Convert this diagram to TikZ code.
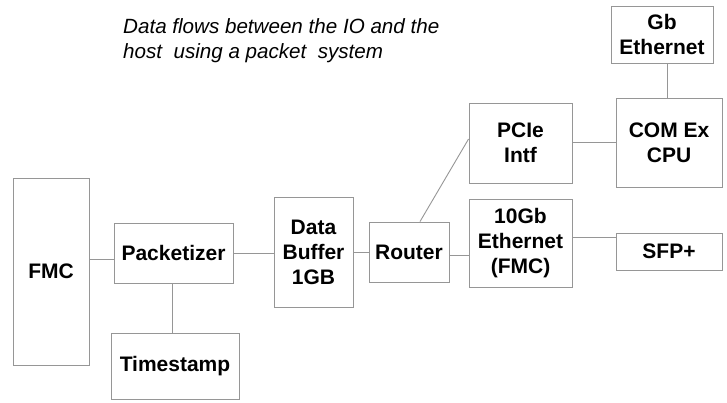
\documentclass[tikz,border=0pt]{standalone}
\usepackage{fontspec}
\setmainfont{Liberation Sans}
\definecolor{linegray}{RGB}{150,150,150}
\tikzset{
  blk/.style={draw=linegray, line width=0.9pt, inner sep=0pt, align=center,
    font=\fontsize{21}{25}\selectfont\bfseries},
  link/.style={draw=linegray, line width=0.9pt}
}
\begin{document}
\begin{tikzpicture}[x=1pt,y=-1pt]
\useasboundingbox (0,0) rectangle (727,402);
%%%%
\node[blk, minimum width=76, minimum height=187] (fmc) at (51,271.5) {FMC};
\node[blk, minimum width=119, minimum height=60] (pkt) at (173.5,253) {Packetizer};
\node[blk, minimum width=128, minimum height=66] (ts) at (175,366) {Timestamp};
\node[blk, minimum width=79, minimum height=110] (buf) at (313.5,252) {Data\\Buffer\\1GB};
\node[blk, minimum width=80, minimum height=60] (rtr) at (409,252) {Router};
\node[blk, minimum width=103, minimum height=88] (teng) at (520.5,243) {10Gb\\Ethernet\\(FMC)};
\node[blk, minimum width=106, minimum height=37] (sfp) at (669,251.5) {SFP+};
\node[blk, minimum width=103, minimum height=80] (pcie) at (520.5,143) {PCIe\\Intf};
\node[blk, minimum width=106, minimum height=89] (cpu) at (669,142.5) {COM Ex\\CPU};
\node[blk, minimum width=102, minimum height=57] (gbe) at (662,34.5) {Gb\\Ethernet};
%%%%
\node[anchor=base west, inner sep=0pt, align=left,
  font=\fontsize{20.6}{25}\selectfont\itshape] (note) at (123,58)
  {Data flows between the IO and the\\host\ \ using a packet\ \ system};
%%%%
\draw[link] ([yshift=-6]pkt.west -| fmc.east) -- ([yshift=-6]pkt.west);
\draw[link] (pkt.east) -- (pkt.east -| buf.west);
\draw[link] (buf.east) -- (buf.east -| rtr.west);
\draw[link] ([yshift=-3]rtr.east) -- ([yshift=-3]rtr.east -| teng.west);
\draw[link] ([yshift=6]teng.east) -- ([yshift=6]teng.east -| sfp.west);
\draw[link] ([xshift=-1.5]pkt.south) -- ([xshift=-1.5]pkt.south |- ts.north);
\draw[link] ([xshift=11]rtr.north) -- ([yshift=4]pcie.west);
\draw[link] ([yshift=1]pcie.east) -- ([yshift=1]pcie.east -| cpu.west);
\draw[link] ([xshift=-2]cpu.north) -- ([xshift=-2]cpu.north |- gbe.south);
\end{tikzpicture}
\end{document}
